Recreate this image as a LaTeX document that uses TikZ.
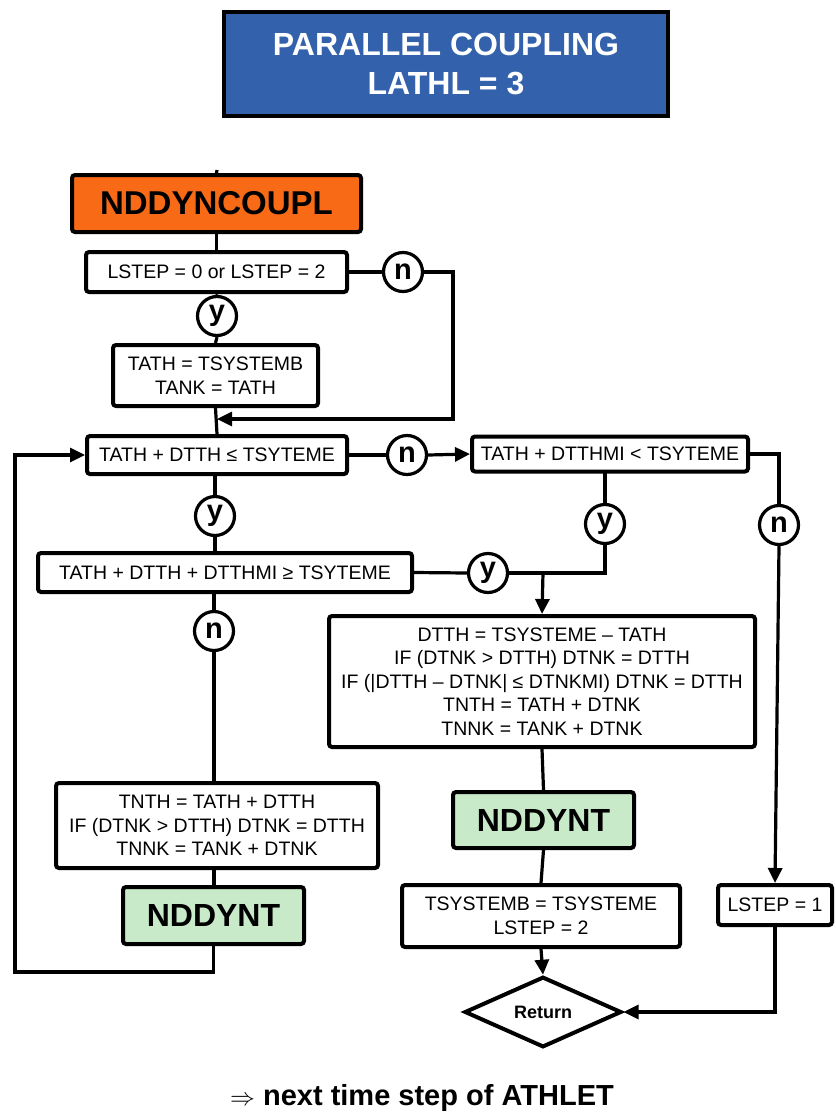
\documentclass[tikz,border=0pt]{standalone}
\usepackage{fontspec}
\setmainfont{Liberation Sans}
\usetikzlibrary{arrows.meta,shapes.geometric}
\definecolor{titleblue}{HTML}{3461AC}
\definecolor{callorange}{HTML}{F96A16}
\definecolor{callgreen}{HTML}{C9EAC9}

\begin{document}
\begin{tikzpicture}[x=1pt,y=-1pt,
  box/.style={draw, line width=4pt, rounded corners=3pt, fill=white, inner sep=0pt,
    align=center, font=\fontsize{19.5}{23.5}\selectfont},
  callbox/.style={box, font=\fontsize{32}{36}\selectfont\bfseries},
  flag/.style={circle, draw, line width=3.2pt, fill=white, minimum size=39pt, inner sep=0pt,
    font=\fontsize{29}{29}\selectfont\bfseries},
  link/.style={line width=3.2pt},
  arr/.style={link, -{Triangle[length=15pt,width=14pt]}},
]
\useasboundingbox (0,0) rectangle (835,1116);

% header
\node[box, rounded corners=0pt, minimum width=444pt, minimum height=104pt, fill=titleblue,
  text=white, font=\fontsize{32}{39}\selectfont\bfseries] (title) at (446,64)
  {PARALLEL COUPLING\\LATHL = 3};

% left column
\node[callbox, fill=callorange, minimum width=289pt, minimum height=57pt,
  font=\fontsize{33}{36}\selectfont\bfseries] (ndc) at (216.5,203.5) {NDDYNCOUPL};
\node[box, minimum width=261pt, minimum height=40pt] (lstep) at (216.5,272) {LSTEP = 0 or LSTEP = 2};
\node[box, minimum width=205pt, minimum height=61pt] (init) at (215.5,375.5) {TATH = TSYSTEMB\\TANK = TATH};
\node[box, minimum width=260pt, minimum height=38pt] (c1) at (217,455) {TATH + DTTH ≤ TSYTEME};
\node[box, minimum width=276pt, minimum height=35pt] (c2) at (610,454) {TATH + DTTHMI < TSYTEME};
\node[box, minimum width=374pt, minimum height=39pt] (c3) at (225,572.5) {TATH + DTTH + DTTHMI ≥ TSYTEME};
\node[box, minimum width=426pt, minimum height=131pt] (big) at (542,681.5)
  {DTTH = TSYSTEME – TATH\\IF (DTNK > DTTH) DTNK = DTTH\\IF (|DTTH – DTNK| ≤ DTNKMI) DTNK = DTTH\\TNTH = TATH + DTNK\\TNNK = TANK + DTNK};
\node[box, minimum width=322pt, minimum height=85pt] (calc) at (217,825.5)
  {TNTH = TATH + DTTH\\IF (DTNK > DTTH) DTNK = DTTH\\TNNK = TANK + DTNK};
\node[callbox, fill=callgreen, minimum width=181pt, minimum height=57pt] (ndynL) at (213.5,915.5) {NDDYNT};
\node[callbox, fill=callgreen, minimum width=181pt, minimum height=56pt] (ndynR) at (543.5,820) {NDDYNT};
\node[box, minimum width=278pt, minimum height=62pt] (tsys) at (541,916) {TSYSTEMB = TSYSTEME\\LSTEP = 2};
\node[box, minimum width=114pt, minimum height=40pt] (lstep1) at (775,905) {LSTEP = 1};
\node[diamond, draw, line width=4pt, fill=white, inner sep=0pt, minimum width=157pt,
  minimum height=50pt, font=\fontsize{18}{18}\selectfont\bfseries] (ret) at (543,1012) {Return};

% decision flags
\node[flag] (n1) at (403,272) {n};
\node[flag] (y1) at (217,316) {y};
\node[flag] (n2) at (407,455) {n};
\node[flag] (y2) at (215,516) {y};
\node[flag] (y3) at (605,524) {y};
\node[flag] (n3) at (779,525) {n};
\node[flag] (y4) at (488,573) {y};
\node[flag] (n4) at (214,631) {n};

% junction points
\coordinate (stub) at (217,170);
\coordinate (j1) at (217,419);
\coordinate (j2) at (543,573);
\coordinate (j3) at (605,573);

% connectors
\draw[link] (stub) -- (ndc.north);
\draw[link] (ndc.south) -- (lstep.north);
\draw[link] (lstep.east) -- (n1.west);
\draw[arr] (n1.east) -- (453,272) |- (j1);
\draw[link] (lstep.south) -- (y1.north);
\draw[link] (y1.south) -- (init.north);
\draw[link] (init.south) -- (c1.north);
\draw[link] (c1.east) -- (n2.west);
\draw[arr] (n2.east) -- (c2.west);
\draw[link] (c2.east) -| (n3.north);
\draw[arr] (n3.south) -- (lstep1.north);
\draw[link] (605,471.5) -- (y3.north);
\draw[link] (y3.south) -- (j3) -- (y4.east);
\draw[arr] (j2) -- (big.north);
\draw[link] (215,474) -- (y2.north);
\draw[link] (y2.south) -- (215,553);
\draw[link] (c3.east) -- (y4.west);
\draw[link] (214,592) -- (n4.north);
\draw[link] (n4.south) -- (214,783);
\draw[link] (214,868) -- (214,887);
\draw[arr] (ndynL.south) |- (15,972) |- (c1.west);
\draw[link] (big.south) -- (ndynR.north);
\draw[link] (ndynR.south) -- (tsys.north);
\draw[arr] (tsys.south) -- (ret.north);
\draw[arr] (lstep1.south) |- (ret.east);

% footer
\node[anchor=base, font=\fontsize{29}{29}\selectfont\bfseries] (next) at (422,1105)
  {$\Rightarrow$ next time step of ATHLET};
\end{tikzpicture}
\end{document}
